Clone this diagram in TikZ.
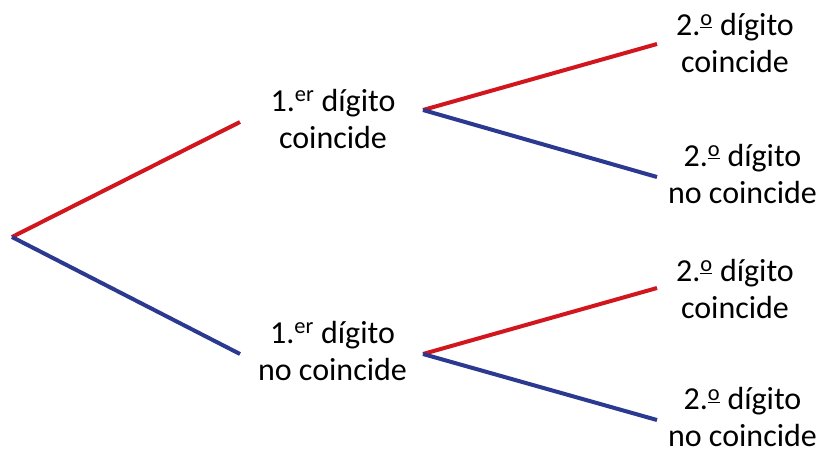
\documentclass[tikz,border=0pt]{standalone}
\usepackage{fontspec}
\setmainfont{Carlito}
\usetikzlibrary{positioning}
\definecolor{trred}{HTML}{D2161E}
\definecolor{trblue}{HTML}{2B3990}
\newcommand{\ordo}{\textsuperscript{\underline{o}}}

\begin{document}
\begin{tikzpicture}[
  x=1pt, y=-1pt,
  lbl/.style={align=center, inner sep=0pt, text=black,
              font=\fontsize{32}{37}\selectfont},
  yes/.style={trred, line width=4pt},
  no/.style={trblue, line width=4pt},
]
\useasboundingbox (0,0) rectangle (819,453);

% Branch points
\coordinate (root) at (12,237);
\coordinate (a1in) at (240,122);
\coordinate (a1out) at (423,110);
\coordinate (a2in) at (240,354);
\coordinate (a2out) at (423,354);
\coordinate (b1in) at (657,44);
\coordinate (b2in) at (657,177);
\coordinate (b3in) at (657,288);
\coordinate (b4in) at (657,420);

% First digit
\node[lbl] (a1) at (333,118.5) {1.\textsuperscript{er} dígito\\coincide};
\node[lbl] (a2) at (332.5,350.5) {1.\textsuperscript{er} dígito\\no coincide};

% Second digit
\node[lbl] (b1) at (735,42.5)  {2.\ordo{} dígito\\coincide};
\node[lbl] (b2) at (742.5,173.5) {2.\ordo{} dígito\\no coincide};
\node[lbl] (b3) at (735,288.5) {2.\ordo{} dígito\\coincide};
\node[lbl] (b4) at (742.5,417) {2.\ordo{} dígito\\no coincide};

% Branches
\draw[yes] (root) -- (a1in);
\draw[no]  (root) -- (a2in);
\draw[yes] (a1out) -- (b1in);
\draw[no]  (a1out) -- (b2in);
\draw[yes] (a2out) -- (b3in);
\draw[no]  (a2out) -- (b4in);

\end{tikzpicture}
\end{document}
